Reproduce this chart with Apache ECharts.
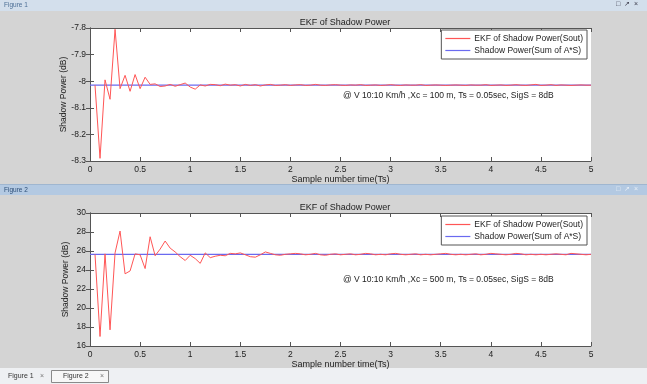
<!DOCTYPE html>
<html>
<head>
<meta charset="utf-8">
<script src="https://cdn.jsdelivr.net/npm/echarts@6/dist/echarts.min.js"></script>
<style>
html,body{margin:0;padding:0;background:#d4d4d4;}
#c{width:647px;height:384px;}
</style>
</head>
<body>
<div id="c"></div>
<script>
// ---- data ----
const sampleTimes = [
0.05,0.10,0.15,0.20,0.25,0.30,0.35,0.40,0.45,0.50,
0.55,0.60,0.65,0.70,0.75,0.80,0.85,0.90,0.95,1.00,
1.05,1.10,1.15,1.20,1.25,1.30,1.35,1.40,1.45,1.50,
1.55,1.60,1.65,1.70,1.75,1.80,1.85,1.90,1.95,2.00,
2.05,2.10,2.15,2.20,2.25,2.30,2.35,2.40,2.45,2.50,
2.55,2.60,2.65,2.70,2.75,2.80,2.85,2.90,2.95,3.00,
3.05,3.10,3.15,3.20,3.25,3.30,3.35,3.40,3.45,3.50,
3.55,3.60,3.65,3.70,3.75,3.80,3.85,3.90,3.95,4.00,
4.05,4.10,4.15,4.20,4.25,4.30,4.35,4.40,4.45,4.50,
4.55,4.60,4.65,4.70,4.75,4.80,4.85,4.90,4.95,5.00];

const ekf1 = [
-8.015,-8.29,-7.995,-8.068,-7.805,-8.028,-7.978,-8.038,-7.975,-8.028,
-7.985,-8.012,-8.010,-8.020,-8.018,-8.012,-8.019,-8.013,-8.007,-8.022,
-8.030,-8.014,-8.018,-8.012,-8.013,-8.017,-8.011,-8.015,-8.013,-8.018,
-8.012,-8.016,-8.013,-8.018,-8.014,-8.012,-8.016,-8.015,-8.013,-8.016,
-8.014,-8.013,-8.016,-8.015,-8.012,-8.015,-8.016,-8.014,-8.013,-8.015,
-8.016,-8.014,-8.015,-8.013,-8.016,-8.015,-8.014,-8.016,-8.015,-8.013,
-8.015,-8.016,-8.014,-8.015,-8.015,-8.013,-8.016,-8.015,-8.014,-8.015,
-8.016,-8.015,-8.014,-8.015,-8.016,-8.014,-8.015,-8.015,-8.013,-8.016,
-8.015,-8.014,-8.016,-8.015,-8.013,-8.015,-8.016,-8.014,-8.012,-8.016,
-8.015,-8.013,-8.016,-8.014,-8.015,-8.016,-8.015,-8.014,-8.015,-8.015];

const ekf2 = [
25.65,17.0,25.7,17.7,25.8,28.1,23.6,23.9,25.7,25.6,
24.15,27.5,25.5,26.2,27.05,26.3,25.9,25.4,25.0,25.55,
25.2,24.7,25.8,25.3,25.45,25.55,25.5,25.75,25.7,25.8,
25.6,25.4,25.35,25.6,25.9,25.75,25.6,25.55,25.65,25.7,
25.75,25.7,25.6,25.65,25.75,25.6,25.55,25.65,25.7,25.6,
25.65,25.7,25.6,25.65,25.75,25.7,25.6,25.65,25.6,25.7,
25.75,25.65,25.6,25.65,25.7,25.6,25.65,25.6,25.65,25.7,
25.75,25.65,25.6,25.65,25.6,25.65,25.7,25.6,25.65,25.75,
25.7,25.65,25.6,25.65,25.75,25.7,25.6,25.65,25.6,25.65,
25.6,25.65,25.7,25.65,25.6,25.75,25.7,25.65,25.6,25.65];

const trueTimes = [0, 5];
const truePower1 = [-8.015, -8.015];
const truePower2 = [25.65, 25.65];

const xTicks = {min: 0, max: 5, interval: 0.5};
const yTicks1 = {min: -8.3, max: -7.8, interval: 0.1};
const yTicks2 = {min: 16, max: 30, interval: 2};

const titleText = 'EKF of Shadow Power';
const xName = 'Sample number time(Ts)';
const yName = 'Shadow Power (dB)';
const seriesNames = ['EKF of Shadow Power(Sout)', 'Shadow Power(Sum of A*S)'];
const notes = ['@ V 10:10 Km/h ,Xc = 100 m, Ts = 0.05sec, SigS = 8dB',
               '@ V 10:10 Km/h ,Xc = 500 m, Ts = 0.05sec, SigS = 8dB'];

// ---- chart ----
const FONT = '"Liberation Sans", Arial, sans-serif';
const txt = '#222';
const zip = (a, b) => a.map((v, i) => [v, b[i]]);
const fmtY = v => String(+(+v).toFixed(2));

function xAxisPair(gi) {
  return [
    {gridIndex: gi, type: 'value', ...xTicks, position: 'bottom',
     name: xName, nameLocation: 'middle', nameGap: 14, nameMoveOverlap: false,
     nameTextStyle: {fontFamily: FONT, fontSize: 9, color: txt},
     axisLine: {show: true, lineStyle: {color: '#555', width: 1}},
     axisTick: {inside: true, length: 4, lineStyle: {color: '#555'}},
     axisLabel: {fontFamily: FONT, fontSize: 8.5, color: txt, margin: 4, formatter: v => String(+(+v).toFixed(1))},
     splitLine: {show: false}},
    {gridIndex: gi, type: 'value', ...xTicks, position: 'top',
     axisLine: {show: true, lineStyle: {color: '#555', width: 1}},
     axisTick: {inside: true, length: 4, lineStyle: {color: '#555'}},
     axisLabel: {show: false}, splitLine: {show: false}}
  ];
}
function yAxisPair(gi, ticks, gap) {
  return [
    {gridIndex: gi, type: 'value', ...ticks, position: 'left',
     name: yName, nameLocation: 'middle', nameGap: gap, nameRotate: 90, nameMoveOverlap: false,
     nameTextStyle: {fontFamily: FONT, fontSize: 8.5, color: txt},
     axisLine: {show: true, lineStyle: {color: '#555', width: 1}},
     axisTick: {inside: true, length: 4, lineStyle: {color: '#555'}},
     axisLabel: {fontFamily: FONT, fontSize: 8.5, color: txt, margin: 4, formatter: fmtY},
     splitLine: {show: false}},
    {gridIndex: gi, type: 'value', ...ticks, position: 'right',
     axisLine: {show: true, lineStyle: {color: '#555', width: 1}},
     axisTick: {inside: true, length: 4, lineStyle: {color: '#555'}},
     axisLabel: {show: false}, splitLine: {show: false}}
  ];
}

const chart = echarts.init(document.getElementById('c'), null, {renderer: 'canvas'});

const legendBase = {
  orient: 'vertical', right: 60, width: 140,
  backgroundColor: '#fff', borderColor: '#555', borderWidth: 1,
  padding: [4, 4, 4, 4], itemGap: 3, itemWidth: 25, itemHeight: 1.2,
  icon: 'rect', data: seriesNames,
  textStyle: {fontFamily: FONT, fontSize: 8.5, color: txt, padding: [0, 0, 0, -1]},
  selectedMode: false
};

const option = {
  backgroundColor: '#d4d4d4',
  animation: false,
  title: [
    {text: titleText, left: 340, top: 13, textAlign: 'center',
     textStyle: {fontFamily: FONT, fontSize: 9, fontWeight: 'normal', color: txt}},
    {text: titleText, left: 340, top: 198, textAlign: 'center',
     textStyle: {fontFamily: FONT, fontSize: 9, fontWeight: 'normal', color: txt}}
  ],
  legend: [
    Object.assign({}, legendBase, {top: 30}),
    Object.assign({}, legendBase, {top: 216})
  ],
  grid: [
    {left: 90, top: 28, width: 501, height: 133, show: true, backgroundColor: '#fff', borderWidth: 0},
    {left: 90, top: 213, width: 501, height: 133, show: true, backgroundColor: '#fff', borderWidth: 0}
  ],
  xAxis: [...xAxisPair(0), ...xAxisPair(1)],
  yAxis: [...yAxisPair(0, yTicks1, 22), ...yAxisPair(1, yTicks2, 20)],
  series: [
    {name: seriesNames[1], type: 'line', xAxisIndex: 0, yAxisIndex: 0, data: zip(trueTimes, truePower1),
     showSymbol: false, lineStyle: {color: '#6a6af0', width: 1.2}, itemStyle: {color: '#6a6af0'}, z: 2},
    {name: seriesNames[0], type: 'line', xAxisIndex: 0, yAxisIndex: 0, data: zip(sampleTimes, ekf1),
     showSymbol: false, lineStyle: {color: '#ff5656', width: 1}, itemStyle: {color: '#ff5656'}, z: 3},
    {name: seriesNames[1], type: 'line', xAxisIndex: 2, yAxisIndex: 2, data: zip(trueTimes, truePower2),
     showSymbol: false, lineStyle: {color: '#6a6af0', width: 1.2}, itemStyle: {color: '#6a6af0'}, z: 2},
    {name: seriesNames[0], type: 'line', xAxisIndex: 2, yAxisIndex: 2, data: zip(sampleTimes, ekf2),
     showSymbol: false, lineStyle: {color: '#ff5656', width: 1}, itemStyle: {color: '#ff5656'}, z: 3}
  ],
  graphic: [
    {type: 'rect', left: 0, top: 0, shape: {width: 647, height: 11}, style: {fill: '#d3dfec'}, z: 0},
    {type: 'text', left: 4, top: 2, style: {text: 'Figure 1', font: '6.5px ' + FONT, fill: '#4d6f96'}},
    {type: 'text', left: 616, top: 1, style: {text: '\u25A1  \u2197  \u00D7', font: '7px ' + FONT, fill: '#3b3b4b'}},
    {type: 'rect', left: 0, top: 185, shape: {width: 647, height: 10}, style: {fill: '#b3c9e2'}, z: 0},
    {type: 'rect', left: 0, top: 184, shape: {width: 647, height: 1}, style: {fill: '#9fb6d0'}, z: 0},
    {type: 'text', left: 4, top: 187, style: {text: 'Figure 2', font: '6.5px ' + FONT, fill: '#2e4f78'}},
    {type: 'text', left: 616, top: 186, style: {text: '\u25A1  \u2197  \u00D7', font: '7px ' + FONT, fill: '#e8eef6'}},
    {type: 'text', left: 343, top: 91, style: {text: notes[0], font: '8.5px ' + FONT, fill: txt}},
    {type: 'text', left: 343, top: 275, style: {text: notes[1], font: '8.5px ' + FONT, fill: txt}},
    {type: 'rect', left: 0, top: 368, shape: {width: 647, height: 16}, style: {fill: '#eef0f3'}, z: 0},
    {type: 'text', left: 8, top: 373, style: {text: 'Figure 1', font: '7px ' + FONT, fill: '#333'}},
    {type: 'text', left: 40, top: 373, style: {text: '\u00D7', font: '7px ' + FONT, fill: '#777'}},
    {type: 'rect', left: 51, top: 370, shape: {width: 57, height: 12}, style: {fill: '#f7f7f7', stroke: '#8a8a8a', lineWidth: 1}, z: 0},
    {type: 'text', left: 63, top: 373, style: {text: 'Figure 2', font: '7px ' + FONT, fill: '#333'}},
    {type: 'text', left: 100, top: 373, style: {text: '\u00D7', font: '7px ' + FONT, fill: '#777'}}
  ]
};
chart.setOption(option);
</script>
</body>
</html>
